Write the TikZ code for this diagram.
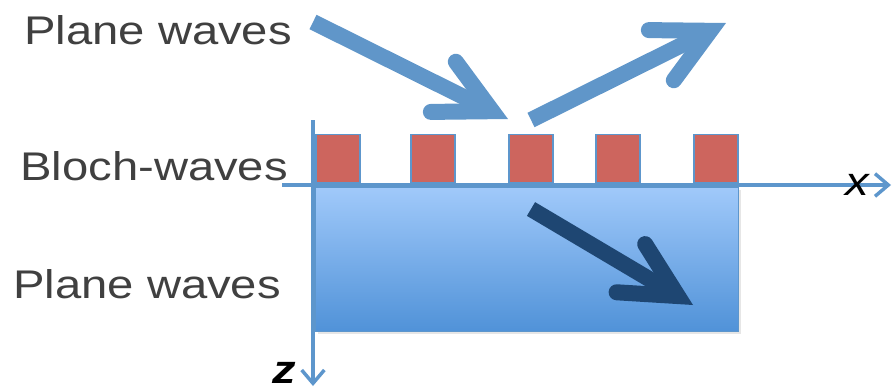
\documentclass[tikz,border=0pt]{standalone}
\usepackage{fontspec}
\setmainfont[FakeStretch=1.18]{Liberation Sans}
\usetikzlibrary{arrows.meta, shadows}
\definecolor{axisblue}{RGB}{93, 150, 204}
\definecolor{wavelight}{RGB}{96, 150, 201}
\definecolor{wavedark}{RGB}{30, 70, 114}
\definecolor{padred}{RGB}{205, 101, 94}
\definecolor{slabtop}{RGB}{160, 201, 250}
\definecolor{slabbottom}{RGB}{80, 146, 216}
\definecolor{labelgray}{RGB}{64, 64, 64}

\begin{document}
\begin{tikzpicture}[x=0.75pt, y=-0.75pt,
    label/.style={text=labelgray, font=\fontsize{30}{36}\selectfont, inner sep=0pt, anchor=base west},
    axislabel/.style={font=\fontsize{30}{36}\selectfont\itshape, inner sep=0pt, anchor=base},
    axis/.style={line width=2.6pt, axisblue, -{Straight Barb[length=10pt, width=17pt]}},
    pad/.style={draw=axisblue, line width=1.2pt, fill=padred, minimum width=33pt, minimum height=36.5pt, inner sep=0pt, anchor=south west},
    slab/.style={draw=axisblue, line width=0.9pt, top color=slabtop, bottom color=slabbottom, minimum width=317pt, minimum height=108pt, inner sep=0pt, anchor=north west, drop shadow={opacity=0.2, shadow xshift=2pt, shadow yshift=-2pt}},
    wave/.style={line width=12pt, line cap=butt, -{Straight Barb[length=41pt, width=42pt, line cap=round, line join=miter]}}]
        \useasboundingbox (0,0) rectangle (892,390);

        % Slab below the grating
        \node[slab] (slab) at (315,187) {};

        % Grating pads
        \foreach \px [count=\i] in {315, 410, 508, 595, 693}
            \node[pad] (pad\i) at (\px,184) {};

        % Axes
        \coordinate (xstart) at (282,185);
        \coordinate (xend) at (891,185);
        \coordinate (zstart) at (313,120);
        \coordinate (zend) at (313,386);
        \draw[axis] (xstart) -- (xend);
        \draw[axis] (zstart) -- (zend);
        \node[axislabel] (xlab) at (857,195) {x};
        \node[axislabel, font=\fontsize{30}{36}\selectfont\itshape\bfseries] (zlab) at (284,383) {z};

        % Incident and reflected waves
        \coordinate (intail) at (313,22);
        \coordinate (intip) at (508,119);
        \coordinate (outtail) at (531,120);
        \coordinate (outtip) at (726,23);
        \draw[wave, wavelight] (intail) -- (intip);
        \draw[wave, wavelight] (outtail) -- (outtip);

        % Transmitted wave
        \coordinate (dtail) at (531,209);
        \coordinate (dtip) at (693,305);
        \draw[wave, wavedark] (dtail) -- (dtip);

        % Labels
        \node[label] (top) at (24,44) {Plane waves};
        \node[label] (bloch) at (20,180) {Bloch-waves};
        \node[label] (bottom) at (13,298) {Plane waves};
    \end{tikzpicture}
\end{document}
